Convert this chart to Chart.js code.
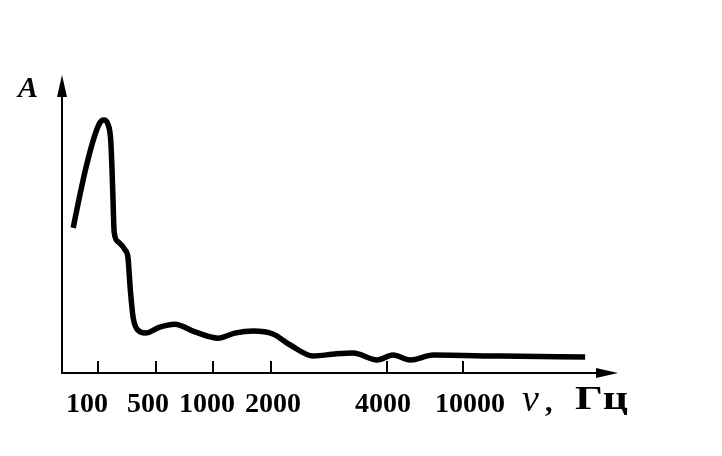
<!DOCTYPE html>
<html>
<head>
<meta charset="utf-8">
<script src="https://cdn.jsdelivr.net/npm/chart.js@4"></script>
<style>
  html, body { margin: 0; padding: 0; background: #fff; }
  #wrap { width: 722px; height: 456px; }
</style>
</head>
<body>
<div id="wrap"><canvas id="respChart" width="722" height="456"></canvas></div>
<script>
// position along the (non-uniform) frequency axis: 100 Hz = 1, 500 = 2, 1000 = 3, 2000 = 4, 4000 = 6, 10000 = 7.33
const tickPos = [1, 2, 3, 4, 6, 7.33];
const tickLabels = ['100', '500', '1000', '2000', '4000', '10000'];

// curve (x = axis position, y = amplitude, arbitrary units 0..10)
const curveX = [0.57, 0.65, 0.79, 0.93, 1.03, 1.10, 1.17, 1.22, 1.24, 1.26, 1.28, 1.35, 1.47, 1.52, 1.56, 1.61, 1.69, 1.82,
                2.07, 2.33, 2.68, 3.08, 3.37, 3.69, 4.03, 4.33, 4.73, 5.11, 5.42, 5.84, 6.11, 6.41, 6.81, 7.97, 9.44];
const curveY = [4.87, 5.64, 6.88, 7.89, 8.39, 8.49, 8.36, 7.82, 6.98, 5.81, 4.73, 4.40, 4.13, 3.86, 2.79, 1.85, 1.44, 1.34,
                1.54, 1.64, 1.38, 1.17, 1.34, 1.41, 1.31, 0.94, 0.57, 0.64, 0.67, 0.44, 0.60, 0.44, 0.60, 0.57, 0.54];

const points = curveX.map((x, i) => ({ x: x, y: curveY[i] }));

const axesPlugin = {
  id: 'axesPlugin',
  afterDraw(chart) {
    const c = chart.ctx;
    const a = chart.chartArea;
    const xs = chart.scales.x;
    // labels in the book sit a bit off their tick marks
    const labelShift = [-11, -8, -6, 2, -4, 7];
    c.save();
    c.strokeStyle = '#000';
    c.fillStyle = '#000';
    c.lineWidth = 2;
    // axes
    c.beginPath();
    c.moveTo(a.left, a.top + 15);
    c.lineTo(a.left, a.bottom);
    c.lineTo(a.right - 15, a.bottom);
    c.stroke();
    // arrow heads
    c.beginPath();
    c.moveTo(a.left, a.top);
    c.lineTo(a.left - 5, a.top + 22);
    c.lineTo(a.left + 5, a.top + 22);
    c.closePath();
    c.fill();
    c.beginPath();
    c.moveTo(a.right, a.bottom);
    c.lineTo(a.right - 22, a.bottom - 5);
    c.lineTo(a.right - 22, a.bottom + 5);
    c.closePath();
    c.fill();
    // tick marks and labels
    c.font = 'bold 28px "Liberation Serif", serif';
    c.textAlign = 'center';
    c.textBaseline = 'alphabetic';
    tickPos.forEach((p, i) => {
      const px = Math.round(xs.getPixelForValue(p));
      c.beginPath();
      c.moveTo(px, a.bottom);
      c.lineTo(px, a.bottom - 12);
      c.stroke();
      c.fillText(tickLabels[i], px + labelShift[i], a.bottom + 39);
    });
    // axis titles
    c.textAlign = 'left';
    c.font = 'italic 38px "Liberation Serif", serif';
    c.fillText('\u03BD', 522, a.bottom + 38);
    c.font = 'bold 30px "Liberation Serif", serif';
    c.fillText(',', 545, a.bottom + 38);
    c.font = 'bold 34px "Liberation Serif", serif';
    const unit = '\u0413\u0446';
    const w = c.measureText(unit).width;
    c.save();
    c.translate(575, a.bottom + 36);
    c.scale(53 / w, 1);
    c.fillText(unit, 0, 0);
    c.restore();
    c.font = 'italic bold 30px "Liberation Serif", serif';
    c.fillText('A', 18, 97);
    c.restore();
  }
};

document.addEventListener('DOMContentLoaded', function () {
  const ctx = document.getElementById('respChart');
  new Chart(ctx.getContext('2d'), {
    type: 'line',
    data: {
      datasets: [{
        data: points,
        borderColor: '#000',
        borderWidth: 5.5,
        pointRadius: 0,
        fill: false,
        cubicInterpolationMode: 'monotone',
        borderCapStyle: 'butt'
      }]
    },
    options: {
      responsive: false,
      animation: false,
      layout: { padding: { left: 62, right: 104, top: 75, bottom: 83 } },
      plugins: { legend: { display: false }, tooltip: { enabled: false } },
      scales: {
        x: { type: 'linear', min: 0.376, max: 10.01, display: false },
        y: { type: 'linear', min: 0, max: 10, display: false }
      }
    },
    plugins: [axesPlugin]
  });
});
</script>
</body>
</html>
